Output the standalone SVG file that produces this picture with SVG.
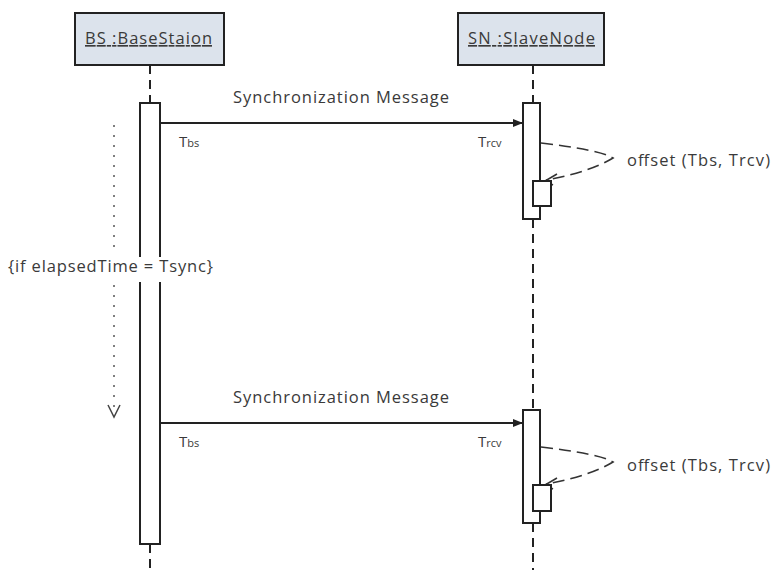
<svg xmlns="http://www.w3.org/2000/svg" width="773" height="570" viewBox="0 0 773 570">
<style>
text{font-family:"Open Sans","Liberation Sans",sans-serif;fill:#3a3a3a;}
.hdr{fill:#dce3ec;stroke:#222;stroke-width:2;}
.act{fill:#fff;stroke:#222;stroke-width:2;}
.life{stroke:#222;stroke-width:2;stroke-dasharray:9,6;fill:none;}
.msg{stroke:#222;stroke-width:2;fill:none;}
.self{stroke:#333;stroke-width:1.6;stroke-dasharray:12,6;fill:none;}
.dot{stroke:#555;stroke-width:1.5;stroke-dasharray:2,8;fill:none;}
.lbl{font-size:16.5px;}
.t{font-size:15px;}
.sub{font-size:11px;}
</style>
<defs>
<marker id="filled" markerWidth="10" markerHeight="10" refX="9" refY="5" orient="auto" markerUnits="userSpaceOnUse">
<path d="M0,1 L10,5 L0,9 Z" fill="#222"/>
</marker>
</defs>
<g id="connectors">
<line class="life" x1="150" y1="65" x2="150" y2="103"/>
<line class="life" x1="150" y1="544" x2="150" y2="570"/>
<line class="life" x1="533" y1="65" x2="533" y2="103"/>
<line class="life" x1="533" y1="219" x2="533" y2="410"/>
<line class="life" x1="533" y1="523" x2="533" y2="570"/>
<line class="msg" x1="160" y1="123" x2="522" y2="123" marker-end="url(#filled)"/>
<line class="msg" x1="160" y1="423" x2="522" y2="423" marker-end="url(#filled)"/>
<path class="self" d="M541,143 Q600,150 613,158 Q590,172 546,180"/>
<path d="M557,174 L545,181 L553,185" fill="none" stroke="#333" stroke-width="1.5"/>
<path class="self" d="M541,447 Q600,454 613,462 Q590,476 546,484"/>
<path d="M557,478 L545,485 L553,489" fill="none" stroke="#333" stroke-width="1.5"/>
<line class="dot" x1="114" y1="125" x2="114" y2="255"/>
<line class="dot" x1="114" y1="285" x2="114" y2="414"/>
<path d="M108,405 L114,417 L120,405" fill="none" stroke="#444" stroke-width="1.5"/>
</g>
<g id="bs">
<rect class="hdr" x="75" y="13" width="149" height="52"/>
<text class="lbl" x="148.5" y="44" text-anchor="middle" textLength="127" text-decoration="underline">BS :BaseStaion</text>
</g>
<g id="sn">
<rect class="hdr" x="458" y="13" width="146" height="52"/>
<text class="lbl" x="531.5" y="44" text-anchor="middle" textLength="127" text-decoration="underline">SN :SlaveNode</text>
</g>
<g id="bs-activation">
<rect class="act" x="140" y="103" width="20" height="441"/>
</g>
<g id="sn-activation-1">
<rect class="act" x="523" y="103" width="17" height="116"/>
<rect class="act" x="533" y="181" width="18" height="25"/>
</g>
<g id="sn-activation-2">
<rect class="act" x="523" y="410" width="17" height="113"/>
<rect class="act" x="533" y="485" width="18" height="26"/>
</g>
<g id="labels">
<text class="lbl" x="341" y="103" text-anchor="middle" textLength="216">Synchronization Message</text>
<text class="lbl" x="341" y="403" text-anchor="middle" textLength="216">Synchronization Message</text>
<text class="t" x="179" y="147">T<tspan class="sub">bs</tspan></text>
<text class="t" x="478" y="147">T<tspan class="sub">rcv</tspan></text>
<text class="t" x="179" y="447">T<tspan class="sub">bs</tspan></text>
<text class="t" x="478" y="447">T<tspan class="sub">rcv</tspan></text>
<text class="lbl" x="627" y="166" textLength="143">offset (Tbs, Trcv)</text>
<text class="lbl" x="627" y="471" textLength="143">offset (Tbs, Trcv)</text>
<rect x="6" y="257" width="210" height="25" fill="#fff"/>
<text class="lbl" x="8" y="272" textLength="205">{if elapsedTime = Tsync}</text>
</g>
</svg>
